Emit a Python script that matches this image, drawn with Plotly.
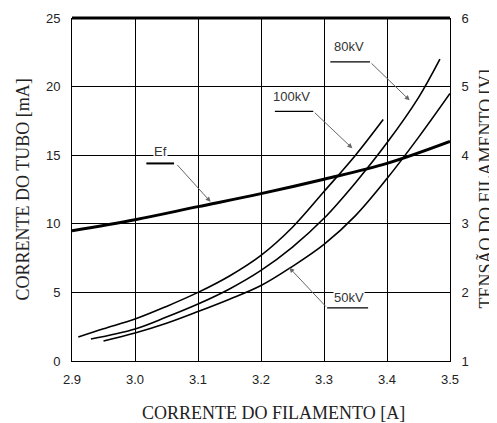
import plotly.graph_objects as go

# filament current [A] vs tube current [mA] for each tube voltage
x_100kv = [2.91, 2.95, 3.0, 3.05, 3.1, 3.15, 3.2, 3.25, 3.3, 3.35, 3.394]
y_100kv = [1.75, 2.35, 3.06, 3.98, 5.0, 6.2, 7.7, 9.75, 12.35, 15.0, 17.6]

x_80kv = [2.93, 3.0, 3.05, 3.1, 3.15, 3.2, 3.25, 3.3, 3.35, 3.4, 3.45, 3.484]
y_80kv = [1.6, 2.33, 3.2, 4.15, 5.25, 6.6, 8.3, 10.4, 13.0, 15.9, 19.2, 22.0]

x_50kv = [2.95, 3.0, 3.05, 3.1, 3.15, 3.2, 3.25, 3.3, 3.35, 3.4, 3.45, 3.5]
y_50kv = [1.46, 2.04, 2.75, 3.6, 4.5, 5.5, 6.9, 8.5, 10.6, 13.3, 16.3, 19.5]

# filament voltage [V]
x_ef = [2.9, 3.0, 3.1, 3.2, 3.3, 3.4, 3.5]
y_ef = [2.9, 3.06, 3.25, 3.44, 3.65, 3.88, 4.2]

x_ticks = [2.9, 3.0, 3.1, 3.2, 3.3, 3.4, 3.5]
x_tick_text = ["2.9", "3.0", "3.1", "3.2", "3.3", "3.4", "3.5"]

fig = go.Figure()
for xs, ys in [(x_100kv, y_100kv), (x_80kv, y_80kv), (x_50kv, y_50kv)]:
    fig.add_trace(go.Scatter(x=xs, y=ys, mode="lines",
                             line=dict(color="black", width=1.6, shape="spline", smoothing=1),
                             showlegend=False, hoverinfo="skip"))
fig.add_trace(go.Scatter(x=x_ef, y=y_ef, mode="lines", yaxis="y2",
                         line=dict(color="black", width=3, shape="spline", smoothing=1),
                         showlegend=False, hoverinfo="skip"))

tick_font = dict(family="Liberation Sans, Arial", size=13, color="#222")
title_font = dict(family="Liberation Serif, Times New Roman", size=18, color="#222")

# page body has an 8px margin, so the figure is sized to fill the rest of the window
fig.update_layout(
    width=489, height=415,
    margin=dict(l=64, r=47, t=10, b=62, autoexpand=False),
    plot_bgcolor="white", paper_bgcolor="white",
    xaxis=dict(range=[2.9, 3.5], tickvals=x_ticks, ticktext=x_tick_text,
               showgrid=True, gridcolor="black", gridwidth=1,
               showline=True, linecolor="black", linewidth=1,
               zeroline=False, tickfont=tick_font, ticklabelstandoff=6, automargin=False),
    yaxis=dict(range=[0, 25], tickvals=[0, 5, 10, 15, 20, 25],
               showgrid=True, gridcolor="black", gridwidth=1,
               showline=True, linecolor="black", linewidth=1,
               zeroline=False, tickfont=tick_font, ticklabelstandoff=8, automargin=False),
    yaxis2=dict(range=[1, 6], tickvals=[1, 2, 3, 4, 5, 6], overlaying="y", side="right",
                showgrid=False, showline=True, linecolor="black", linewidth=1,
                zeroline=False, tickfont=tick_font, ticklabelstandoff=8, automargin=False),
)

# axis titles
fig.add_annotation(xref="paper", yref="paper", x=0, y=0.5, xshift=-50, textangle=-90,
                   xanchor="center", yanchor="middle",
                   text="CORRENTE DO TUBO [mA]", showarrow=False, font=title_font)
fig.add_annotation(xref="paper", yref="paper", x=1, y=0.5, xshift=35, textangle=-90,
                   xanchor="center", yanchor="middle",
                   text="TENSÃO DO FILAMENTO [V]", showarrow=False, font=title_font)
fig.add_annotation(xref="paper", yref="paper", x=0.5, y=0, xshift=12, yshift=-52,
                   xanchor="center", yanchor="middle",
                   text="CORRENTE DO FILAMENTO [A]", showarrow=False, font=title_font)

# thick top border
fig.add_shape(type="line", xref="paper", yref="paper", x0=0, x1=1, y0=1, y1=1,
              line=dict(color="black", width=3))

label_font = dict(family="Liberation Sans, Arial", size=13, color="#333")
# label, text position, underline, arrow start x and arrow tip
labels = [
    ("Ef", 3.04, 15.25, 3.018, 3.062, 14.4, 3.065, 3.12, 11.6),
    ("100kV", 3.248, 19.3, 3.222, 3.283, 18.2, 3.283, 3.345, 15.5),
    ("80kV", 3.34, 22.9, 3.310, 3.373, 21.8, 3.373, 3.436, 19.0),
    ("50kV", 3.34, 4.6, 3.305, 3.370, 3.87, 3.305, 3.245, 6.8),
]
for text, tx, ty, ux0, ux1, uy, ax0, hx, hy in labels:
    fig.add_annotation(x=tx, y=ty, text=text, showarrow=False, font=label_font,
                       bgcolor="white", borderpad=0)
    fig.add_shape(type="line", x0=ux0, x1=ux1, y0=uy, y1=uy,
                  line=dict(color="black", width=2 if text == "Ef" else 1.2))
    fig.add_annotation(x=hx, y=hy, ax=ax0, ay=uy, xref="x", yref="y", axref="x", ayref="y",
                       text="", showarrow=True, arrowhead=2, arrowsize=1, arrowwidth=1,
                       arrowcolor="#666")

fig.write_html("out.html")
